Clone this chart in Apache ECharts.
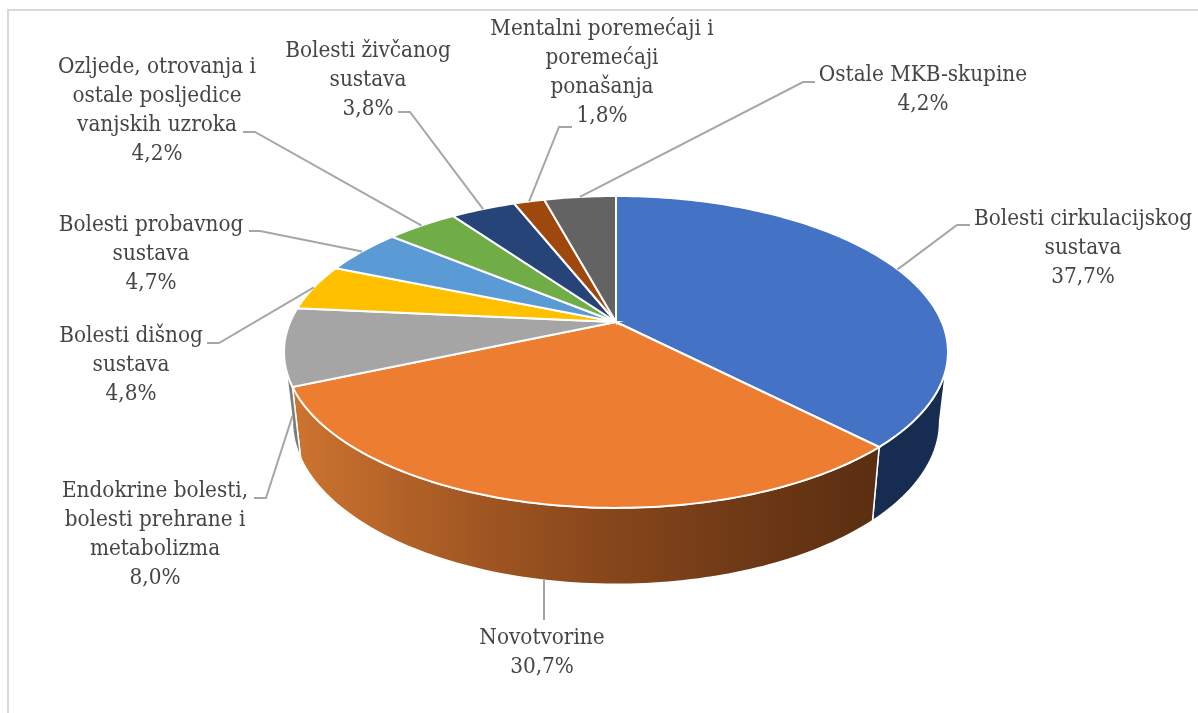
<!DOCTYPE html>
<html>
<head>
<meta charset="utf-8">
<title>Pie</title>
<script src="https://cdn.jsdelivr.net/npm/echarts@6/dist/echarts.min.js"></script>
<style>
html, body { margin: 0; padding: 0; background: #fff; }
#main { width: 1198px; height: 713px; }
</style>
</head>
<body>
<div id="main"></div>
<script>
// data, clockwise from 12 o'clock
const categories = [
    'Bolesti cirkulacijskog\nsustava',
    'Novotvorine',
    'Endokrine bolesti,\nbolesti prehrane i\nmetabolizma',
    'Bolesti dišnog\nsustava',
    'Bolesti probavnog\nsustava',
    'Ozljede, otrovanja i\nostale posljedice\nvanjskih uzroka',
    'Bolesti živčanog\nsustava',
    'Mentalni poremećaji i\nporemećaji\nponašanja',
    'Ostale MKB-skupine'
]
const values = [37.7, 30.7, 8.0, 4.8, 4.7, 4.2, 3.8, 1.8, 4.2]

// colours
const topColors = ['#4472C4', '#ED7D31', '#A5A5A5', '#FFC000', '#5B9BD5', '#70AD47', '#264478', '#9E480E', '#636363']
const sideColors = ['#172C51', null, '#7C7C7C', '#BF9000', '#3F7CB5', '#54823A', '#1C3359', '#77360A', '#4A4A4A']

// label layout: centre of the text block, then the elbow points of the leader line
const labelCenters = [[1083, 248], [542, 653], [155, 535], [131, 365], [151, 254], [157, 111], [368, 80], [602, 73], [923, 90]]
const leaderElbows = [
    [[970, 225], [957, 225]],
    [[544, 620]],
    [[254, 498], [266, 498]],
    [[207, 343], [219, 343]],
    [[249, 231], [260, 231]],
    [[243, 132], [255, 132]],
    [[398, 112], [410, 112]],
    [[572, 127], [559, 127]],
    [[815, 82], [803, 82]]
]
// leaders of the front slices stop on the lower rim
const leaderOnBottom = [false, true, true, false, false, false, false, false, false]
// Novotvorine's leader drops straight down
const leaderFixedX = [null, 544, null, null, null, null, null, null, null]

// perspective of the pie disc
const disc = { cx: 616, k: 0.192 }
const topPlane = { a: 325.8, b: 150.2, cy: 322 }
const bottomPlane = { a: 317.6, b: 157, cy: 390 }
const silhouette = Math.acos(-disc.k) // angle where the wall turns out of sight

const total = values.reduce((a, b) => a + b, 0)
const starts = []
values.reduce((sum, v, i) => {
    starts[i] = sum
    return sum + v
}, 0)
const toAngle = (v) => v / total * Math.PI * 2

const project = (plane, t) => {
    const u = Math.sin(t)
    const v = Math.cos(t)
    const w = 1 + disc.k * v
    return [disc.cx + plane.a * u / w, plane.cy - plane.b * v / w]
}

const arc = (plane, t0, t1) => {
    const pts = []
    const n = Math.max(2, Math.ceil(Math.abs(t1 - t0) / 0.02))
    for (let i = 0; i <= n; i++) {
        pts.push(project(plane, t0 + (t1 - t0) * i / n))
    }
    return pts
}

const orangeWall = new echarts.graphic.LinearGradient(300, 0, 880, 0, [
    { offset: 0, color: '#CB7330' },
    { offset: 0.25, color: '#A85B24' },
    { offset: 0.5, color: '#8A481C' },
    { offset: 0.75, color: '#703A16' },
    { offset: 1, color: '#5A2E11' }
], true)

const renderWall = (params, api) => {
    const i = api.value(0)
    const t0 = Math.max(toAngle(starts[i]), silhouette)
    const t1 = Math.min(toAngle(starts[i] + values[i]), Math.PI * 2 - silhouette)
    if (t1 <= t0) {
        return null
    }
    return {
        type: 'polygon',
        shape: { points: arc(topPlane, t0, t1).concat(arc(bottomPlane, t1, t0)) },
        style: { fill: sideColors[i] || orangeWall, stroke: '#fff', lineWidth: 1.5 }
    }
}

const renderTop = (params, api) => {
    const i = api.value(0)
    const t0 = toAngle(starts[i])
    const t1 = toAngle(starts[i] + values[i])
    return {
        type: 'polygon',
        shape: { points: [[disc.cx, topPlane.cy]].concat(arc(topPlane, t0, t1)) },
        style: { fill: topColors[i], stroke: '#fff', lineWidth: 2 }
    }
}

const renderLabel = (params, api) => {
    const i = api.value(0)
    const mid = toAngle(starts[i] + values[i] / 2)
    const anchor = project(leaderOnBottom[i] ? bottomPlane : topPlane, mid)
    if (leaderFixedX[i] !== null) {
        anchor[0] = leaderFixedX[i]
    }
    return {
        type: 'group',
        children: [
            {
                type: 'polyline',
                shape: { points: leaderElbows[i].concat([anchor]) },
                style: { fill: null, stroke: '#A6A6A6', lineWidth: 2 }
            },
            {
                type: 'text',
                style: {
                    text: categories[i] + '\n' + values[i].toFixed(1).replace('.', ',') + '%',
                    x: labelCenters[i][0],
                    y: labelCenters[i][1],
                    align: 'center',
                    verticalAlign: 'middle',
                    lineHeight: 29,
                    fill: '#454545',
                    font: '22.3px "DejaVu Serif Condensed", "Liberation Serif", serif'
                }
            }
        ]
    }
}

const seriesData = values.map((v, i) => [i, v])
const chart = echarts.init(document.getElementById('main'))
chart.setOption({
    animation: false,
    backgroundColor: '#fff',
    graphic: [
        {
            type: 'polyline',
            shape: { points: [[8, 713], [8, 10], [1198, 10]] },
            style: { fill: null, stroke: '#D9D9D9', lineWidth: 2 }
        }
    ],
    series: [
        { type: 'custom', name: 'wall', coordinateSystem: 'none', silent: true, renderItem: renderWall, data: seriesData, z: 1 },
        { type: 'custom', name: 'top', coordinateSystem: 'none', silent: true, renderItem: renderTop, data: seriesData, z: 2 },
        { type: 'custom', name: 'labels', coordinateSystem: 'none', silent: true, renderItem: renderLabel, data: seriesData, z: 3 }
    ]
})
</script>
</body>
</html>
